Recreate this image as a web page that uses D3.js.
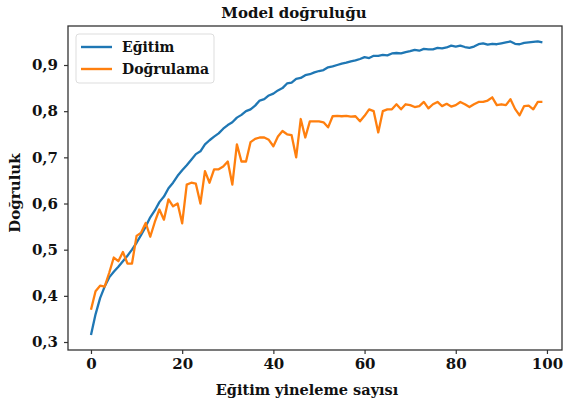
<!DOCTYPE html>
<html lang="tr">
<head>
<meta charset="UTF-8">
<script src="https://d3js.org/d3.v7.min.js"></script>
<style>
  body { margin: 0; background: #fff; }
  text { font-family: "DejaVu Serif", serif; font-weight: bold; fill: #111; }
</style>
</head>
<body>
<svg width="563" height="406"></svg>
<script>
// epoch values
const epochs = d3.range(0, 100);
const egitim = [
  0.315, 0.36, 0.395, 0.42, 0.44, 0.452, 0.463, 0.475, 0.487, 0.5,
  0.515, 0.532, 0.55, 0.57, 0.585, 0.603, 0.615, 0.633, 0.645, 0.66,
  0.672, 0.683, 0.695, 0.707, 0.713, 0.728, 0.737, 0.745, 0.752, 0.762,
  0.77, 0.776, 0.786, 0.792, 0.8, 0.804, 0.812, 0.823, 0.826, 0.834,
  0.838, 0.845, 0.85, 0.86, 0.862, 0.87, 0.872, 0.878, 0.88, 0.884,
  0.887, 0.889, 0.895, 0.897, 0.9, 0.903, 0.905, 0.908, 0.91, 0.913,
  0.917, 0.915, 0.92, 0.92, 0.922, 0.921, 0.925, 0.926, 0.925, 0.928,
  0.93, 0.933, 0.931, 0.935, 0.934, 0.934, 0.937, 0.936, 0.938, 0.942,
  0.94, 0.942, 0.939, 0.937, 0.94, 0.945, 0.947, 0.944, 0.946, 0.945,
  0.947, 0.949, 0.951, 0.946, 0.945, 0.948, 0.949, 0.95, 0.951, 0.949
];
const dogrulama = [
  0.37, 0.41, 0.422, 0.42, 0.45, 0.483, 0.475, 0.495, 0.47, 0.47,
  0.53, 0.537, 0.558, 0.528, 0.56, 0.587, 0.565, 0.609, 0.594, 0.6,
  0.557, 0.641, 0.645, 0.643, 0.6, 0.67, 0.645, 0.674, 0.674, 0.68,
  0.691, 0.641, 0.728, 0.691, 0.691, 0.733, 0.74, 0.743, 0.743, 0.738,
  0.724, 0.745, 0.757, 0.75, 0.748, 0.70, 0.783, 0.743, 0.778, 0.778,
  0.778, 0.776, 0.765, 0.789, 0.79, 0.789, 0.79, 0.788, 0.789, 0.778,
  0.79, 0.804, 0.8, 0.754, 0.8, 0.804, 0.804, 0.815, 0.804, 0.815,
  0.813, 0.809, 0.811, 0.82, 0.806, 0.815, 0.82, 0.811, 0.816, 0.81,
  0.813, 0.82, 0.815, 0.809, 0.815, 0.82, 0.82, 0.823, 0.83, 0.813,
  0.815, 0.813, 0.826, 0.805, 0.791, 0.811, 0.812, 0.804, 0.82, 0.82
];
const xTicks = [0, 20, 40, 60, 80, 100];
const yTicks = [0.3, 0.4, 0.5, 0.6, 0.7, 0.8, 0.9];
const seriesNames = ["Eğitim", "Doğrulama"];
const colors = ["#1f77b4", "#ff7f0e"];

const svg = d3.select("svg");
const mLeft = 68, mRight = 562, mTop = 26, mBottom = 350;

// scales: 0 -> 91px, 100 -> 547px; 0.3 -> 342px, 0.9 -> 65px
const x = d3.scaleLinear().domain([-5.04, 103.3]).range([mLeft, mRight]);
const y = d3.scaleLinear().domain([0.2827, 0.9845]).range([mBottom, mTop]);

// frame
svg.append("rect")
  .attr("x", mLeft).attr("y", mTop)
  .attr("width", mRight - mLeft).attr("height", mBottom - mTop)
  .attr("fill", "none").attr("stroke", "#333").attr("stroke-width", 1.3);

const fmt = d => d3.format(".1f")(d).replace(".", ",");

const xAxis = svg.append("g")
  .attr("transform", `translate(0,${mBottom})`)
  .call(d3.axisBottom(x).tickValues(xTicks).tickSize(4).tickPadding(4));
const yAxis = svg.append("g")
  .attr("transform", `translate(${mLeft},0)`)
  .call(d3.axisLeft(y).tickValues(yTicks).tickFormat(fmt).tickSize(4).tickPadding(6));

[xAxis, yAxis].forEach(a => {
  a.select(".domain").remove();
  a.selectAll("line").attr("stroke", "#333").attr("stroke-width", 1.2);
  a.selectAll("text")
    .style("font-family", "DejaVu Serif").style("font-weight", "bold")
    .style("font-size", "15px").attr("fill", "#111");
});

// lines
const line = d3.line().x((d, i) => x(epochs[i])).y(d => y(d));
[egitim, dogrulama].forEach((s, k) => {
  svg.append("path")
    .datum(s)
    .attr("fill", "none")
    .attr("stroke", colors[k])
    .attr("stroke-width", 2.3)
    .attr("stroke-linejoin", "round")
    .attr("d", line);
});

// legend
const lg = svg.append("g").attr("transform", "translate(76,34)");
lg.append("rect")
  .attr("width", 138).attr("height", 49).attr("rx", 3)
  .attr("fill", "#fff").attr("stroke", "#ddd");
seriesNames.forEach((n, k) => {
  const yy = 13 + k * 22;
  lg.append("line")
    .attr("x1", 5).attr("x2", 36).attr("y1", yy).attr("y2", yy)
    .attr("stroke", colors[k]).attr("stroke-width", 2.4);
  lg.append("text")
    .attr("x", 46).attr("y", yy).attr("dy", "0.35em")
    .style("font-size", "14px").text(n);
});

// titles
svg.append("text")
  .attr("x", 294).attr("y", 13).attr("dy", "0.35em")
  .attr("text-anchor", "middle").style("font-size", "15px")
  .text("Model doğruluğu");
svg.append("text")
  .attr("x", 307).attr("y", 390).attr("dy", "0.35em")
  .attr("text-anchor", "middle").style("font-size", "14.5px")
  .text("Eğitim yineleme sayısı");
svg.append("text")
  .attr("transform", "translate(15,193) rotate(-90)")
  .attr("dy", "0.35em")
  .attr("text-anchor", "middle").style("font-size", "15px")
  .text("Doğruluk");
</script>
</body>
</html>
